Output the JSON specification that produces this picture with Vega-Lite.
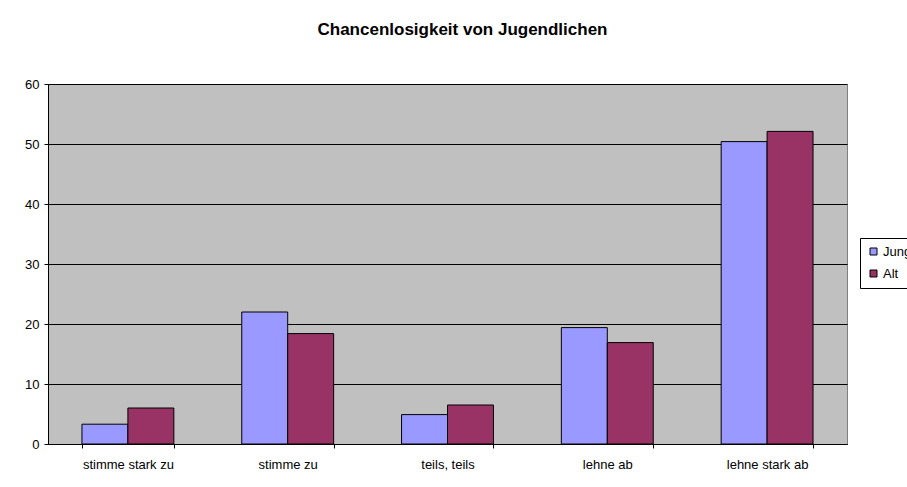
{
  "$schema": "https://vega.github.io/schema/vega-lite/v6.json",
  "autosize": "none",
  "width": 799,
  "height": 360,
  "padding": {"left": 48, "top": 84, "right": 60, "bottom": 43},
  "background": "white",
  "title": {
    "text": "Chancenlosigkeit von Jugendlichen",
    "font": "Liberation Sans",
    "fontSize": 17,
    "fontWeight": "bold",
    "color": "black",
    "anchor": "middle",
    "baseline": "alphabetic",
    "offset": 26,
    "dx": 15
  },
  "data": {
    "values": [
      {"category": "stimme stark zu", "group": "Jung", "value": 3.3},
      {"category": "stimme stark zu", "group": "Alt", "value": 6.0},
      {"category": "stimme zu", "group": "Jung", "value": 22.0},
      {"category": "stimme zu", "group": "Alt", "value": 18.4},
      {"category": "teils, teils", "group": "Jung", "value": 4.9},
      {"category": "teils, teils", "group": "Alt", "value": 6.5},
      {"category": "lehne ab", "group": "Jung", "value": 19.4},
      {"category": "lehne ab", "group": "Alt", "value": 16.9},
      {"category": "lehne stark ab", "group": "Jung", "value": 50.4},
      {"category": "lehne stark ab", "group": "Alt", "value": 52.1}
    ]
  },
  "mark": {"type": "bar", "stroke": "black", "strokeWidth": 1},
  "encoding": {
    "x": {
      "field": "category",
      "type": "nominal",
      "sort": ["stimme stark zu", "stimme zu", "teils, teils", "lehne ab", "lehne stark ab"],
      "scale": {"paddingInner": 0.425, "paddingOuter": 0.2125},
      "axis": {
        "title": null,
        "labelAngle": 0,
        "tickBand": "extent",
        "domainColor": "black",
        "tickColor": "black",
        "tickSize": 4,
        "labelPadding": 10,
        "labelFont": "Liberation Sans",
        "labelFontSize": 13,
        "labelColor": "black",
        "grid": false
      }
    },
    "xOffset": {"field": "group", "type": "nominal", "sort": ["Jung", "Alt"], "scale": {"paddingInner": 0, "paddingOuter": 0}},
    "y": {
      "field": "value",
      "type": "quantitative",
      "scale": {"domain": [0, 60], "nice": false},
      "axis": {
        "title": null,
        "values": [0, 10, 20, 30, 40, 50, 60],
        "grid": true,
        "gridColor": "black",
        "gridOpacity": 1,
        "gridWidth": 1,
        "domainColor": "black",
        "tickColor": "black",
        "tickSize": 4,
        "labelPadding": 5,
        "labelFont": "Liberation Sans",
        "labelFontSize": 13,
        "labelColor": "black"
      }
    },
    "color": {
      "field": "group",
      "type": "nominal",
      "sort": ["Jung", "Alt"],
      "scale": {"domain": ["Jung", "Alt"], "range": ["#9999FF", "#993366"]},
      "legend": {
        "title": null,
        "orient": "none",
        "legendX": 812,
        "legendY": 154,
        "symbolType": "square",
        "symbolSize": 49,
        "symbolStrokeColor": "black",
        "symbolStrokeWidth": 1,
        "labelFont": "Liberation Sans",
        "labelFontSize": 13,
        "labelColor": "black",
        "labelOffset": 3,
        "rowPadding": 8,
        "padding": 7,
        "strokeColor": "black",
        "fillColor": "white"
      }
    }
  },
  "config": {
    "view": {"fill": "#C0C0C0", "stroke": "#808080", "strokeWidth": 1}
  }
}
